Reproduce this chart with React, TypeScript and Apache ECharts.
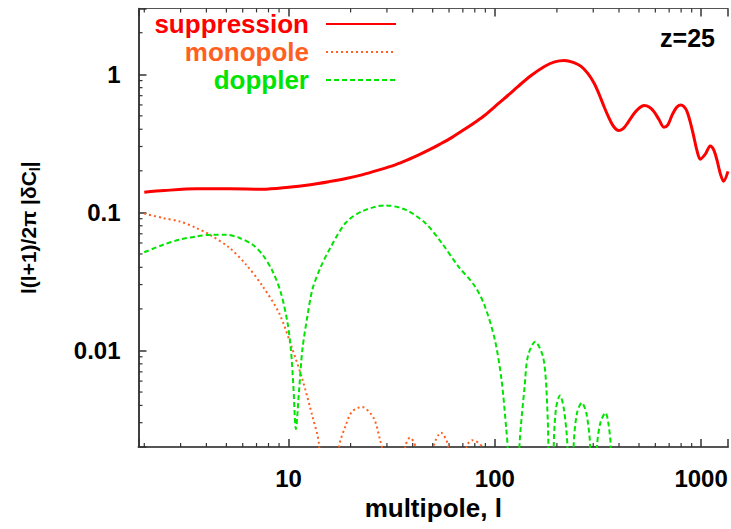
import React, { useEffect, useRef } from "react";
import * as echarts from "echarts";

// ---- data ----
const suppressionL = [2, 2.5, 3.58, 5.18, 7.49, 10, 12.5, 15.7, 19, 22.7, 27.5, 32.9, 38, 42.8, 47.7, 54, 61.8, 72, 80, 89.5, 105, 118, 129.4, 150, 174, 195, 217, 240, 262, 283, 303, 320, 339, 356, 372, 387, 401, 420, 440, 460, 482, 505, 529, 560, 591, 625, 660, 690, 724, 760, 794, 825, 855, 890, 921, 955, 991, 1050, 1107, 1150, 1193, 1240, 1285, 1350];
const suppressionV = [0.14, 0.144, 0.148, 0.148, 0.147, 0.152, 0.158, 0.167, 0.176, 0.187, 0.203, 0.221, 0.241, 0.261, 0.282, 0.311, 0.348, 0.403, 0.448, 0.505, 0.62, 0.72, 0.815, 0.98, 1.14, 1.23, 1.26, 1.22, 1.14, 1.01, 0.86, 0.72, 0.58, 0.49, 0.43, 0.4, 0.392, 0.405, 0.443, 0.49, 0.537, 0.575, 0.594, 0.58, 0.537, 0.47, 0.414, 0.43, 0.508, 0.575, 0.6, 0.585, 0.537, 0.44, 0.355, 0.28, 0.243, 0.265, 0.303, 0.285, 0.24, 0.19, 0.168, 0.198];

const monopoleL = [2, 2.47, 2.97, 3.58, 4.15, 5.18, 6.23, 7.49, 9.0, 10.45, 11.68, 13.05, 14.05, 15.8, 17.6, 18.9, 20.3, 22.7, 25.9, 27.9, 28.4, 32, 36.8, 38.8, 41.2, 45, 50.5, 54.9, 59.5, 66, 73, 77.7, 86.5, 95];
const monopoleV = [0.098, 0.091, 0.086, 0.077, 0.069, 0.0553, 0.0419, 0.0292, 0.0187, 0.0102, 0.00617, 0.00335, 0.0021, 0.0001, 0.002, 0.00284, 0.0036, 0.0039, 0.00323, 0.0022, 0.002, 0.0001, 0.002, 0.00234, 0.002, 0.0001, 0.002, 0.00254, 0.002, 0.0001, 0.002, 0.00224, 0.002, 0.0001];

const dopplerL = [2, 2.47, 2.97, 3.58, 4.3, 4.99, 5.79, 6.71, 7.49, 8.38, 9.19, 9.89, 10.27, 10.56, 10.86, 11.26, 11.68, 12.35, 13.05, 14.2, 15.7, 18.9, 22.7, 29.5, 36.8, 46, 55.3, 66.5, 80.1, 89.5, 100, 107.7, 113.7, 115.4, 123, 131.6, 139.5, 144.7, 157, 171, 177.6, 182, 188, 193, 198, 207, 216, 225, 233, 241, 250, 264, 278, 290, 301, 313, 325, 344, 356, 365, 380];
const dopplerV = [0.0514, 0.0583, 0.0635, 0.067, 0.069, 0.069, 0.0653, 0.0583, 0.0494, 0.0374, 0.0261, 0.0159, 0.0102, 0.0055, 0.0027, 0.0052, 0.0102, 0.0177, 0.0276, 0.039, 0.053, 0.0838, 0.1017, 0.1124, 0.1047, 0.0838, 0.06, 0.0407, 0.0292, 0.0209, 0.012, 0.0062, 0.00268, 0.002, 0.0001, 0.002, 0.0055, 0.0091, 0.01156, 0.0091, 0.0055, 0.002, 0.0001, 0.002, 0.0038, 0.00473, 0.0038, 0.002, 0.0001, 0.002, 0.0035, 0.00418, 0.0035, 0.002, 0.0001, 0.002, 0.003, 0.00354, 0.0029, 0.002, 0.0001];

const xTickLabels = [10, 100, 1000];
const yTickLabels = [0.01, 0.1, 1];
const xMinorTicks = [2, 3, 4, 5, 6, 7, 8, 9, 20, 30, 40, 50, 60, 70, 80, 90, 200, 300, 400, 500, 600, 700, 800, 900];
const yMinorTicks = [0.003, 0.004, 0.005, 0.006, 0.007, 0.008, 0.009, 0.02, 0.03, 0.04, 0.05, 0.06, 0.07, 0.08, 0.09, 0.2, 0.3, 0.4, 0.5, 0.6, 0.7, 0.8, 0.9, 2];

const X_MIN = 1.875;
const X_MAX = 1350;
const Y_MIN = 0.002;
const Y_MAX = 3;

const FONT = "'Liberation Sans', Arial, Helvetica, sans-serif";
const RED = "#ff0000";
const ORANGE = "#ff6020";
const GREEN = "#00e400";

const zip = (a: number[], b: number[]) => a.map((v, i) => [v, b[i]]);

function matchLabel(list: number[], v: number): string {
  const t = list.find((x) => Math.abs(x - v) / x < 1e-6);
  return t === undefined ? "" : String(t);
}

const legendText = (color: string) => ({
  color,
  fontFamily: FONT,
  fontWeight: "bold",
  fontSize: 26,
  lineHeight: 25,
  padding: [0, 12, 0, 0],
});

export default function App() {
  const ref = useRef<HTMLDivElement>(null);

  useEffect(() => {
    document.body.style.margin = "0";
    const chart = echarts.init(ref.current!, null, { renderer: "svg" });

    const tickColor = "#333";

    const option: any = {
      animation: false,
      backgroundColor: "#ffffff",
      textStyle: { fontFamily: FONT },
      grid: { left: 138.5, right: 0, top: 8.4, bottom: 82 },
      legend: {
        orient: "vertical",
        align: "right",
        right: 329,
        top: 6,
        itemWidth: 70,
        itemHeight: 14,
        itemGap: 2,
        selectedMode: false,
        itemStyle: { opacity: 0, color: "transparent", borderColor: "transparent", borderWidth: 0 },
        textStyle: legendText("#000"),
        data: [
          { name: "suppression", textStyle: legendText(RED) },
          { name: "monopole", textStyle: legendText(ORANGE) },
          { name: "doppler", textStyle: legendText(GREEN) },
        ],
      },
      xAxis: [
        {
          type: "log",
          logBase: 10,
          min: X_MIN,
          max: X_MAX,
          position: "bottom",
          name: "multipole, l",
          nameLocation: "middle",
          nameGap: 44,
          nameTextStyle: { fontFamily: FONT, fontWeight: "bold", fontSize: 26, color: "#000" },
          axisLine: { lineStyle: { color: "#555", width: 2 } },
          axisTick: { inside: true, length: 8, lineStyle: { color: tickColor, width: 1.5 } },
          axisLabel: {
            interval: 0,
            margin: 19,
            fontFamily: FONT,
            fontWeight: "bold",
            fontSize: 24,
            color: "#000",
            formatter: (v: number) => matchLabel(xTickLabels, v),
          },
          splitLine: { show: false },
        },
        {
          type: "log",
          logBase: 10,
          min: X_MIN,
          max: X_MAX,
          position: "top",
          axisLine: { lineStyle: { color: "#555", width: 1 } },
          axisTick: { inside: true, length: 8, lineStyle: { color: tickColor, width: 1.5 } },
          axisLabel: { show: false },
          splitLine: { show: false },
        },
      ],
      yAxis: [
        {
          type: "log",
          logBase: 10,
          min: Y_MIN,
          max: Y_MAX,
          name: "{a|l(l+1)/2π |δC}{s|l}{a||}",
          nameLocation: "middle",
          nameGap: 97,
          nameTextStyle: {
            color: "#000",
            rich: {
              a: { fontFamily: FONT, fontWeight: "bold", fontSize: 21, color: "#000", lineHeight: 26 },
              s: { fontFamily: FONT, fontWeight: "bold", fontSize: 14, color: "#000", lineHeight: 26, padding: [12, 0, 0, 0] },
            },
          },
          axisLine: { lineStyle: { color: "#000", width: 1.5 } },
          axisTick: { inside: true, length: 8, lineStyle: { color: tickColor, width: 1.5 } },
          axisLabel: {
            interval: 0,
            margin: 18,
            fontFamily: FONT,
            fontWeight: "bold",
            fontSize: 24,
            color: "#000",
            formatter: (v: number) => matchLabel(yTickLabels, v),
          },
          splitLine: { show: false },
        },
      ],
      graphic: [
        {
          type: "text",
          right: 16,
          top: 25,
          style: { text: "z=25", fontFamily: FONT, fontWeight: "bold", fontSize: 25, fill: "#000" },
        },
      ],
      series: [
        {
          type: "custom",
          name: "xminor",
          silent: true,
          clip: false,
          xAxisIndex: 0,
          yAxisIndex: 0,
          encode: { x: 0, y: 1 },
          data: xMinorTicks.map((v) => [v, Y_MIN]),
          renderItem: (params: any, api: any) => {
            const p = api.coord([api.value(0), Y_MIN]);
            const cs = params.coordSys;
            const style = { stroke: tickColor, lineWidth: 1.2 };
            return {
              type: "group",
              children: [
                { type: "line", shape: { x1: p[0], y1: cs.y + cs.height, x2: p[0], y2: cs.y + cs.height - 4 }, style },
                { type: "line", shape: { x1: p[0], y1: cs.y, x2: p[0], y2: cs.y + 4 }, style },
              ],
            };
          },
        },
        {
          type: "custom",
          name: "yminor",
          silent: true,
          clip: false,
          xAxisIndex: 0,
          yAxisIndex: 0,
          encode: { x: 0, y: 1 },
          data: yMinorTicks.map((v) => [X_MIN, v]),
          renderItem: (params: any, api: any) => {
            const p = api.coord([X_MIN, api.value(1)]);
            const cs = params.coordSys;
            return {
              type: "line",
              shape: { x1: cs.x, y1: p[1], x2: cs.x + 4, y2: p[1] },
              style: { stroke: tickColor, lineWidth: 1.2 },
            };
          },
        },
        {
          type: "line",
          name: "suppression",
          data: zip(suppressionL, suppressionV),
          showSymbol: false,
          symbol: "none",
          smooth: 0.3,
          clip: true,
          lineStyle: { color: RED, width: 3 },
          itemStyle: { color: RED },
          z: 5,
        },
        {
          type: "line",
          name: "monopole",
          data: zip(monopoleL, monopoleV),
          showSymbol: false,
          symbol: "none",
          smooth: 0.3,
          clip: true,
          lineStyle: { color: ORANGE, width: 2, type: [2, 3] },
          itemStyle: { color: ORANGE },
          z: 4,
        },
        {
          type: "line",
          name: "doppler",
          data: zip(dopplerL, dopplerV),
          showSymbol: false,
          symbol: "none",
          smooth: 0.3,
          clip: true,
          lineStyle: { color: GREEN, width: 2, type: [5, 3] },
          itemStyle: { color: GREEN },
          z: 4,
        },
      ],
    };

    chart.setOption(option);
    return () => chart.dispose();
  }, []);

  return <div ref={ref} style={{ position: "absolute", left: 0, top: 0, width: 731, height: 529 }} />;
}
